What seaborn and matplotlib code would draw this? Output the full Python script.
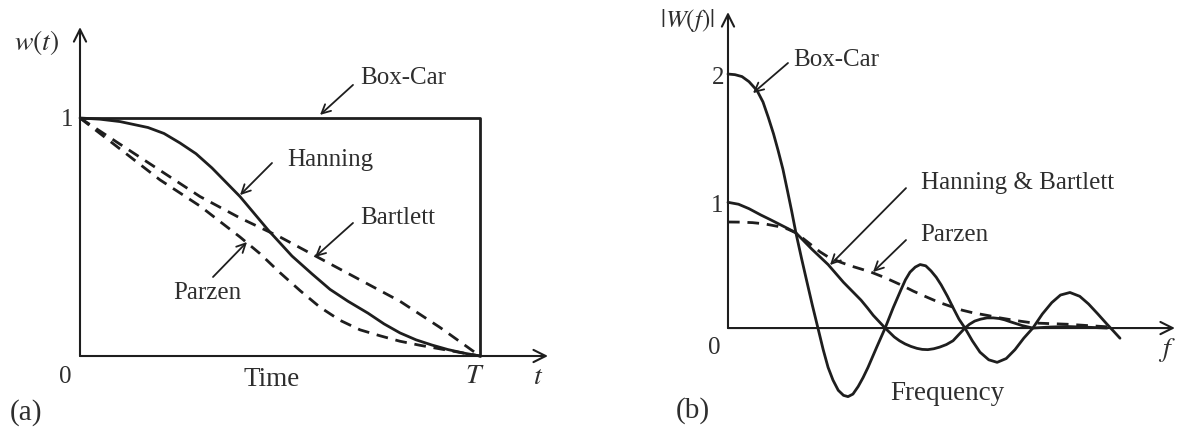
import matplotlib
matplotlib.use("Agg")
import matplotlib.pyplot as plt
import seaborn as sns
import numpy as np
import pandas as pd

# ---------------- data: (a) time windows ----------------
boxcar_t = [0.0, 1.0, 1.0]
boxcar_w = [1.0, 1.0, 0.0]

hanning_t = [0.0, 0.05, 0.1, 0.17, 0.21, 0.25, 0.29, 0.33, 0.365, 0.4, 0.435, 0.47, 0.5,
             0.53, 0.58, 0.625, 0.67, 0.72, 0.76, 0.8, 0.84, 0.88, 0.92, 0.96, 1.0]
hanning_w = [1.0, 0.995, 0.985, 0.96, 0.935, 0.895, 0.85, 0.79, 0.73, 0.67, 0.60, 0.53, 0.475,
             0.42, 0.345, 0.28, 0.23, 0.18, 0.135, 0.097, 0.068, 0.046, 0.027, 0.012, 0.0]

bartlett_t = [0.0, 0.1, 0.2, 0.3, 0.4, 0.5, 0.6, 0.7, 0.8, 0.9, 1.0]
bartlett_w = [1.0, 0.89, 0.78, 0.67, 0.58, 0.5, 0.41, 0.32, 0.23, 0.12, 0.0]

parzen_t = [0.0, 0.05, 0.1, 0.15, 0.2, 0.25, 0.3, 0.35, 0.4, 0.45, 0.5, 0.55, 0.6,
            0.65, 0.7, 0.75, 0.8, 0.85, 0.9, 0.95, 1.0]
parzen_w = [1.0, 0.935, 0.87, 0.805, 0.74, 0.685, 0.63, 0.565, 0.5, 0.43, 0.35, 0.275, 0.205,
            0.15, 0.11, 0.085, 0.062, 0.045, 0.03, 0.015, 0.0]

# ---------------- data: (b) spectral windows ----------------
boxcar_f = [0.0, 0.2, 0.4, 0.6, 0.83, 1.0, 1.15, 1.3, 1.43, 1.57, 1.7, 1.82, 1.94, 2.1, 2.25,
            2.41, 2.57, 2.72, 2.86, 3.0, 3.15, 3.3, 3.43, 3.57, 3.72, 3.86, 4.0, 4.25, 4.49,
            4.72, 4.94, 5.07, 5.2, 5.35, 5.49, 5.65, 5.8, 5.95, 6.09, 6.27, 6.45, 6.6, 6.77,
            6.98, 7.2, 7.45, 7.69, 7.95, 8.2, 8.45, 8.71, 8.98, 9.25, 9.5, 9.77, 10.05, 10.3,
            10.57, 10.83, 11.0, 11.2]
boxcar_W = [2.0, 1.995, 1.98, 1.94, 1.87, 1.78, 1.66, 1.53, 1.40, 1.25, 1.08, 0.92, 0.75, 0.55, 0.37,
            0.18, 0.0, -0.17, -0.31, -0.41, -0.49, -0.53, -0.54, -0.52, -0.46, -0.39, -0.31, -0.15, 0.0,
            0.16, 0.30, 0.38, 0.44, 0.48, 0.50, 0.49, 0.45, 0.40, 0.34, 0.25, 0.15, 0.07, 0.0,
            -0.10, -0.19, -0.25, -0.27, -0.24, -0.17, -0.08, 0.0, 0.11, 0.20, 0.26, 0.28, 0.25, 0.19,
            0.11, 0.03, -0.02, -0.08]

hanning_f = [0.0, 0.3, 0.6, 0.94, 1.2, 1.45, 1.7, 1.94, 2.17, 2.4, 2.63, 2.86, 3.08, 3.3, 3.55,
             3.8, 3.98, 4.15, 4.32, 4.49, 4.62, 4.75, 4.9, 5.06, 5.23, 5.4, 5.55, 5.71, 5.88,
             6.05, 6.24, 6.43, 6.6, 6.77, 6.9, 7.05, 7.22, 7.4, 7.58, 7.75, 7.9, 8.06, 8.23,
             8.4, 8.55, 8.71, 9.2, 9.7, 10.3, 10.83]
hanning_W = [0.99, 0.975, 0.94, 0.89, 0.855, 0.82, 0.785, 0.75, 0.685, 0.62, 0.56, 0.50, 0.43, 0.36, 0.29,
             0.22, 0.16, 0.10, 0.05, 0.0, -0.035, -0.07, -0.10, -0.125, -0.145, -0.16, -0.168, -0.17, -0.163,
             -0.15, -0.13, -0.10, -0.05, 0.0, 0.03, 0.055, 0.07, 0.08, 0.08, 0.075, 0.065, 0.05, 0.035,
             0.02, 0.01, 0.0, 0.008, 0.012, 0.006, 0.0]

parzen_f = [0.0, 0.35, 0.7, 1.05, 1.43, 1.7, 1.94, 2.17, 2.4, 2.63, 2.86, 3.2, 3.5, 3.8, 4.09,
            4.5, 4.94, 5.3, 5.71, 6.05, 6.37, 6.7, 7.0, 7.4, 7.77, 8.2, 8.71, 9.2, 9.69, 10.25, 10.83]
parzen_W = [0.835, 0.834, 0.83, 0.82, 0.80, 0.78, 0.75, 0.70, 0.65, 0.60, 0.56, 0.52, 0.49, 0.465, 0.44,
            0.395, 0.34, 0.29, 0.24, 0.20, 0.17, 0.14, 0.12, 0.10, 0.08, 0.06, 0.04, 0.035, 0.03, 0.02, 0.01]

# ---------------- style ----------------
sns.set_style("white")
plt.rcParams['font.family'] = ['Liberation Serif', 'DejaVu Serif']
plt.rcParams['mathtext.fontset'] = 'stix'

INK = '#1e1e1e'
TXT = '#2e2e2e'
FS = 18
LW = 2.0
DASH = (4.2, 2.8)

fig = plt.figure(figsize=(11.79, 4.28), dpi=100)
ax1 = fig.add_axes([0, 0, 560 / 1179, 1])
ax2 = fig.add_axes([600 / 1179, 0, 579 / 1179, 1])


def draw(ax, x, y, dashed=False):
    sns.lineplot(x=x, y=y, ax=ax, color=INK, lw=LW, sort=False, estimator=None)
    line = ax.lines[-1]
    line.set_solid_joinstyle('round')
    line.set_dash_joinstyle('round')
    if dashed:
        line.set_dashes(DASH)


# ---------------- (a) ----------------
ax1.set_xlim(-0.2, 1.2)
ax1.set_ylim(-0.3025, 1.4958)
ax1.axis('off')

axarrow = dict(arrowstyle='->', lw=1.5, color=INK, mutation_scale=22, shrinkA=0, shrinkB=0)
ax1.annotate('', xy=(1.17, 0), xytext=(0, 0), arrowprops=axarrow)
ax1.annotate('', xy=(0, 1.382), xytext=(0, 0), arrowprops=axarrow)

draw(ax1, boxcar_t, boxcar_w)
draw(ax1, hanning_t, hanning_w)
draw(ax1, bartlett_t, bartlett_w, dashed=True)
draw(ax1, parzen_t, parzen_w, dashed=True)

ax1.text(-0.1075, 1.319, r'$w(t)$', fontsize=FS + 2, color=TXT, ha='center', va='center')
ax1.text(-0.0325, 0.99, '1', fontsize=FS, color=TXT, ha='center', va='center')
ax1.text(-0.0375, -0.088, '0', fontsize=FS, color=TXT, ha='center', va='center')
ax1.text(-0.135, -0.239, '(a)', fontsize=FS + 3, color=TXT, ha='center', va='center')
ax1.text(0.48, -0.10, 'Time', fontsize=FS + 1.5, color=TXT, ha='center', va='center')
ax1.text(0.9875, -0.088, r'$T$', fontsize=FS + 2, color=TXT, ha='center', va='center')
ax1.text(1.145, -0.092, r'$t$', fontsize=FS + 2, color=TXT, ha='center', va='center')

lab = dict(arrowstyle='->', lw=1.3, color=INK, mutation_scale=16, shrinkA=0, shrinkB=0)
ax1.text(0.70, 1.168, 'Box-Car', fontsize=FS, color=TXT, ha='left', va='center')
ax1.annotate('', xy=(0.6, 1.013), xytext=(0.6825, 1.139), arrowprops=lab)
ax1.text(0.5175, 0.824, 'Hanning', fontsize=FS, color=TXT, ha='left', va='center')
ax1.annotate('', xy=(0.4, 0.676), xytext=(0.48, 0.811), arrowprops=lab)
ax1.text(0.70, 0.58, 'Bartlett', fontsize=FS, color=TXT, ha='left', va='center')
ax1.annotate('', xy=(0.5875, 0.416), xytext=(0.6825, 0.559), arrowprops=lab)
ax1.text(0.2325, 0.265, 'Parzen', fontsize=FS, color=TXT, ha='left', va='center')
ax1.annotate('', xy=(0.4175, 0.479), xytext=(0.3325, 0.332), arrowprops=lab)

# ---------------- (b) ----------------
ax2.set_xlim(-3.657, 12.886)
ax2.set_ylim(-0.787, 2.583)
ax2.axis('off')

ax2.annotate('', xy=(12.77, 0), xytext=(0, 0), arrowprops=axarrow)
ax2.annotate('', xy=(0, 2.488), xytext=(0, 0), arrowprops=axarrow)

draw(ax2, boxcar_f, boxcar_W)
draw(ax2, hanning_f, hanning_W)
draw(ax2, parzen_f, parzen_W, dashed=True)

ax2.text(-1.17, 2.425, r'$|W(f)|$', fontsize=FS, color=TXT, ha='center', va='center')
ax2.text(-0.29, 1.97, '2', fontsize=FS, color=TXT, ha='center', va='center')
ax2.text(-0.31, 0.96, '1', fontsize=FS, color=TXT, ha='center', va='center')
ax2.text(-0.4, -0.157, '0', fontsize=FS, color=TXT, ha='center', va='center')
ax2.text(-1.0, -0.646, '(b)', fontsize=FS + 3, color=TXT, ha='center', va='center')
ax2.text(6.26, -0.512, 'Frequency', fontsize=FS + 1.5, color=TXT, ha='center', va='center')
ax2.text(12.54, -0.173, r'$f$', fontsize=FS + 2, color=TXT, ha='center', va='center')

ax2.text(1.857, 2.11, 'Box-Car', fontsize=FS, color=TXT, ha='left', va='center')
ax2.annotate('', xy=(0.714, 1.85), xytext=(1.714, 2.087), arrowprops=lab)
ax2.text(5.51, 1.142, 'Hanning & Bartlett', fontsize=FS, color=TXT, ha='left', va='center')
ax2.annotate('', xy=(2.914, 0.496), xytext=(5.086, 1.102), arrowprops=lab)
ax2.text(5.486, 0.732, 'Parzen', fontsize=FS, color=TXT, ha='left', va='center')
ax2.annotate('', xy=(4.143, 0.441), xytext=(5.086, 0.693), arrowprops=lab)

fig.savefig('out.png', dpi=100)
